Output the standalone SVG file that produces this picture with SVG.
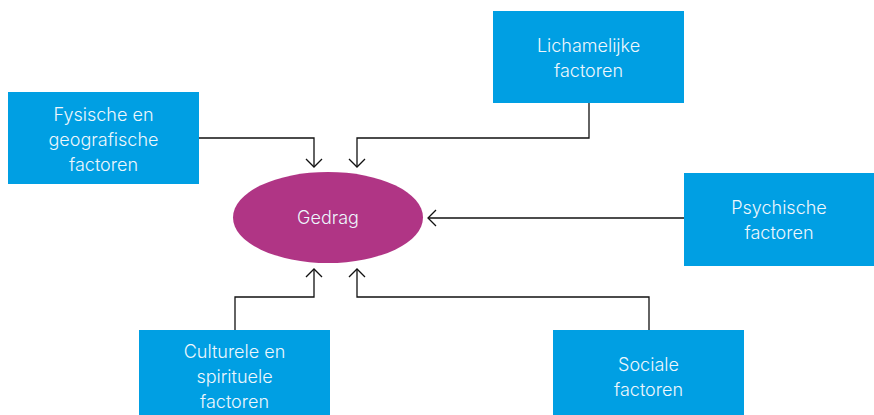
<svg xmlns="http://www.w3.org/2000/svg" width="874" height="415" viewBox="0 0 874 415">
<style>
.box{fill:#009fe3}
.t{font-family:Inter,"Liberation Sans",sans-serif;font-size:18px;fill:#eef7fd;text-anchor:middle;font-weight:300}
.c{fill:none;stroke:#111;stroke-width:1.3}
</style>
<defs>
<marker id="a" markerUnits="userSpaceOnUse" markerWidth="20" markerHeight="20" refX="10" refY="10" orient="auto" viewBox="0 0 20 20">
<path d="M2,2 L10,10 L2,18" fill="none" stroke="#111" stroke-width="1.3"/>
</marker>
</defs>
<rect width="874" height="415" fill="#fff"/>
<g id="connectors">
<path class="c" d="M199,138 H314 V167" marker-end="url(#a)"/>
<path class="c" d="M589,103 V138 H357 V167" marker-end="url(#a)"/>
<path class="c" d="M684,218 H428" marker-end="url(#a)"/>
<path class="c" d="M235,330 V297 H314 V269" marker-end="url(#a)"/>
<path class="c" d="M649,330 V297 H357 V269" marker-end="url(#a)"/>
</g>
<g id="gedrag">
<ellipse cx="328" cy="217.5" rx="95" ry="45.5" fill="#b03585"/>
<text class="t" x="328" y="224">Gedrag</text>
</g>
<g id="fysische">
<rect class="box" x="8" y="92" width="191" height="92"/>
<text class="t" x="103.5" y="121">Fysische en</text>
<text class="t" x="103.5" y="146">geografische</text>
<text class="t" x="103.5" y="171">factoren</text>
</g>
<g id="lichamelijke">
<rect class="box" x="493" y="11" width="191" height="92"/>
<text class="t" x="588.5" y="52">Lichamelijke</text>
<text class="t" x="588.5" y="77">factoren</text>
</g>
<g id="psychische">
<rect class="box" x="684" y="173" width="191" height="93"/>
<text class="t" x="779" y="214">Psychische</text>
<text class="t" x="779" y="239">factoren</text>
</g>
<g id="culturele">
<rect class="box" x="139" y="330" width="191" height="92"/>
<text class="t" x="234.5" y="358">Culturele en</text>
<text class="t" x="234.5" y="383">spirituele</text>
<text class="t" x="234.5" y="408">factoren</text>
</g>
<g id="sociale">
<rect class="box" x="553" y="330" width="191" height="92"/>
<text class="t" x="648.5" y="371">Sociale</text>
<text class="t" x="648.5" y="396">factoren</text>
</g>
</svg>
